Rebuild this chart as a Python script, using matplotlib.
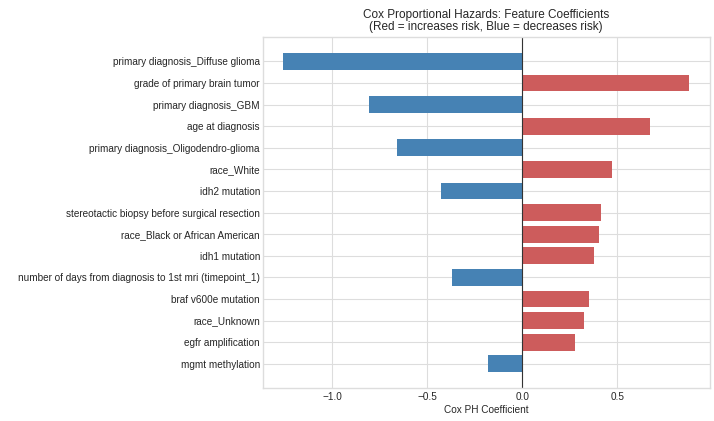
import numpy as np
import matplotlib.pyplot as plt

plt.style.use('seaborn-v0_8-whitegrid')
plt.rcParams['font.family'] = ['Liberation Sans', 'DejaVu Sans']

features = [
    'primary diagnosis_Diffuse glioma',
    'grade of primary brain tumor',
    'primary diagnosis_GBM',
    'age at diagnosis',
    'primary diagnosis_Oligodendro-glioma',
    'race_White',
    'idh2 mutation',
    'stereotactic biopsy before surgical resection',
    'race_Black or African American',
    'idh1 mutation',
    'number of days from diagnosis to 1st mri (timepoint_1)',
    'braf v600e mutation',
    'race_Unknown',
    'egfr amplification',
    'mgmt methylation',
]
coefs = [-1.258, 0.879, -0.805, 0.672, -0.658, 0.474, -0.426, 0.416,
         0.405, 0.379, -0.368, 0.353, 0.323, 0.277, -0.181]

colors = ['indianred' if c > 0 else 'steelblue' for c in coefs]

fig, ax = plt.subplots(figsize=(7.14, 4.21), dpi=100)
fig.subplots_adjust(left=0.368, right=0.994, bottom=0.078, top=0.912)

y = np.arange(len(features))
ax.barh(y, coefs, color=colors, height=0.78)
ax.set_yticks(y)
ax.set_yticklabels(features, fontsize=7.2)
ax.invert_yaxis()
ax.axvline(0, color='#333333', linewidth=0.8)
ax.tick_params(axis='x', labelsize=7.2, pad=3)
ax.tick_params(axis='y', pad=2)
ax.grid(color='#dddddd', linewidth=0.8)
ax.set_xlabel('Cox PH Coefficient', fontsize=7.2, labelpad=2)
ax.set_title('Cox Proportional Hazards: Feature Coefficients\n(Red = increases risk, Blue = decreases risk)',
             fontsize=8.5, linespacing=1.05, pad=5)
for s in ax.spines.values():
    s.set_color('#dddddd')

fig.savefig('out.png', dpi=100)
